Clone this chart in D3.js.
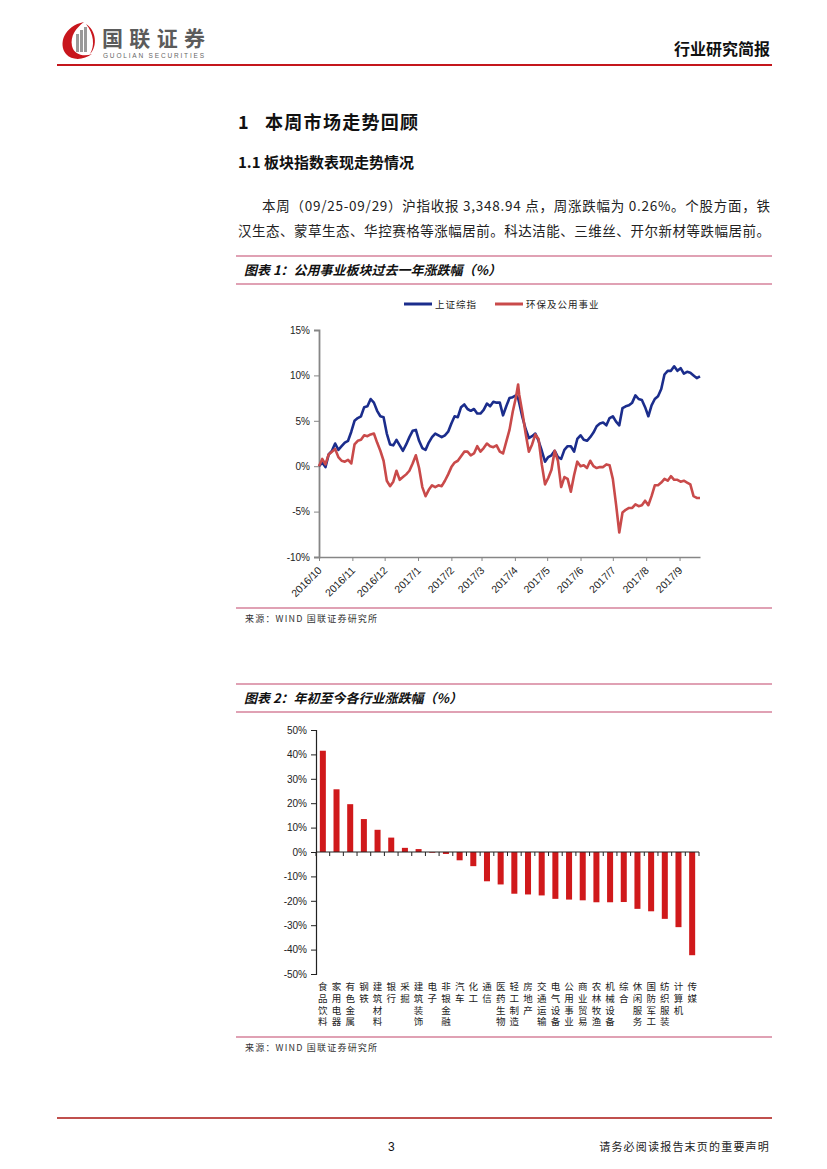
<!DOCTYPE html>
<html><head><meta charset="utf-8">
<script src="https://cdn.jsdelivr.net/npm/d3@7/dist/d3.min.js"></script>
<style>body{margin:0;background:#fff}svg{display:block}</style>
</head><body><svg id="page" width="827" height="1169"></svg>
<script>
// ---------- Figure 1 data (cumulative change, %) ----------
const lineDates = [
"2016-10-01","2016-10-04","2016-10-07","2016-10-10","2016-10-13","2016-10-16","2016-10-19","2016-10-22","2016-10-25","2016-10-28","2016-10-31",
"2016-11-03","2016-11-06","2016-11-09","2016-11-12","2016-11-15","2016-11-18","2016-11-21","2016-11-24","2016-11-27","2016-11-30",
"2016-12-03","2016-12-06","2016-12-09","2016-12-12","2016-12-15","2016-12-18","2016-12-21","2016-12-24","2016-12-27","2016-12-30",
"2017-01-02","2017-01-05","2017-01-08","2017-01-11","2017-01-14","2017-01-17","2017-01-20","2017-01-23","2017-01-26","2017-01-29",
"2017-02-01","2017-02-04","2017-02-07","2017-02-10","2017-02-13","2017-02-16","2017-02-19","2017-02-22","2017-02-25","2017-02-28",
"2017-03-03","2017-03-06","2017-03-09","2017-03-12","2017-03-15","2017-03-18","2017-03-21","2017-03-24","2017-03-27","2017-03-30",
"2017-04-02","2017-04-04","2017-04-05","2017-04-08","2017-04-11","2017-04-14","2017-04-17","2017-04-20","2017-04-23","2017-04-26","2017-04-29",
"2017-05-02","2017-05-05","2017-05-08","2017-05-11","2017-05-14","2017-05-17","2017-05-20","2017-05-23","2017-05-26","2017-05-29",
"2017-06-01","2017-06-04","2017-06-07","2017-06-10","2017-06-13","2017-06-16","2017-06-19","2017-06-22","2017-06-25","2017-06-28",
"2017-07-01","2017-07-04","2017-07-07","2017-07-10","2017-07-13","2017-07-16","2017-07-19","2017-07-22","2017-07-25","2017-07-28","2017-07-31",
"2017-08-03","2017-08-06","2017-08-09","2017-08-12","2017-08-15","2017-08-18","2017-08-21","2017-08-24","2017-08-27","2017-08-30",
"2017-09-02","2017-09-05","2017-09-08","2017-09-11","2017-09-14","2017-09-17","2017-09-20"
];
const shIndex = [
0,0.4,-0.1,1.3,1.7,2.5,1.8,2.2,2.6,2.8,3.8,
5.0,5.3,5.5,6.5,6.6,7.4,7.0,6.1,5.5,5.4,
3.6,2.4,2.3,2.9,2.3,1.7,2.4,3.2,3.9,4.0,
2.8,2.0,1.8,2.6,3.2,3.6,3.4,3.2,3.4,3.8,
4.7,5.5,5.4,6.5,6.8,6.3,6.1,6.3,5.8,5.8,
6.2,6.9,6.6,7.1,7.0,7.0,5.6,6.6,7.5,7.6,
7.8,7.5,7.0,5.4,4.1,3.1,3.3,3.6,2.8,1.7,0.5,
1.0,1.2,1.7,1.0,0.8,1.8,2.2,2.2,1.6,3.0,
3.4,2.9,2.8,3.2,3.7,4.4,4.7,4.8,4.5,5.3,
5.5,4.9,4.5,6.4,6.6,6.7,7.0,7.8,7.4,7.3,6.5,
5.5,6.7,7.4,7.7,8.5,10.1,10.5,10.5,11.0,10.5,
10.8,10.2,10.4,10.3,10.0,9.7,9.9
];
const utilities = [
0,0.8,0.2,1.3,1.6,1.9,1.0,0.6,0.5,0.7,0.3,
2.4,2.8,2.9,3.4,3.3,3.5,3.6,2.6,1.7,0.6,
-1.6,-2.2,-1.7,-0.5,-1.5,-1.2,-0.9,-0.5,0.3,1.2,
-0.2,-2.3,-3.3,-2.6,-2.1,-2.3,-2.1,-2.2,-1.6,-0.9,
-0.1,0.4,0.6,1.1,1.6,1.6,1.2,1.4,2.2,1.6,
2.0,2.5,2.2,2.1,2.3,1.6,1.4,2.7,4.0,6.0,
7.6,9.0,7.9,5.9,3.6,1.6,2.4,3.5,3.0,0.2,-2.0,
-1.3,-0.4,1.7,0.6,-2.3,-1.2,-1.4,-2.8,-1.0,0.5,
0.0,0.1,-0.2,0.6,0.0,-0.2,-0.1,-0.1,0.2,0.1,
-1.4,-4.2,-7.3,-5.1,-4.8,-4.6,-4.6,-4.2,-4.4,-4.3,-3.8,
-4.3,-3.3,-2.1,-2.1,-1.8,-1.4,-1.6,-1.1,-1.5,-1.5,
-1.7,-1.6,-1.8,-2.0,-3.3,-3.5,-3.5
];
const seriesNames = ["上证综指", "环保及公用事业"];
const lineTicks = [-10, -5, 0, 5, 10, 15];
const monthTicks = ["2016-10-01","2016-11-01","2016-12-01","2017-01-01","2017-02-01","2017-03-01","2017-04-01","2017-05-01","2017-06-01","2017-07-01","2017-08-01","2017-09-01"];

// ---------- Figure 2 data (YTD change by industry, %) ----------
const industries = ["食品饮料","家用电器","有色金属","钢铁","建筑材料","银行","采掘","建筑装饰","电子","非银金融","汽车","化工","通信","医药生物","轻工制造","房地产","交通运输","电气设备","公用事业","商业贸易","农林牧渔","机械设备","综合","休闲服务","国防军工","纺织服装","计算机","传媒"];
const industryChange = [41.5,25.7,19.6,13.5,9.1,5.9,1.7,1.2,-0.3,-0.8,-3.4,-5.8,-12.0,-13.3,-17.1,-17.4,-17.8,-19.2,-19.5,-19.8,-20.6,-20.6,-20.5,-23.3,-24.3,-27.4,-30.8,-42.3];
const barTicks = [-50,-40,-30,-20,-10,0,10,20,30,40,50];

// ---------- page ----------
const CJK = "'Noto Sans CJK SC','Noto Sans',sans-serif";
const LAT = "'Liberation Sans',Arial,sans-serif";
const svg = d3.select("#page");
svg.append("rect").attr("width",827).attr("height",1169).attr("fill","#fff");

// header logo
const logo = svg.append("g");
logo.append("path").attr("d","M84,22 C64,26 58,44 66,54 C72,61 84,60 92,54 C84,57 74,55 72,46 C70,36 76,28 84,22 Z").attr("fill","#c8161d");
logo.append("path").attr("d","M86,24 C96,30 98,46 90,54 C95,46 94,34 86,24 Z").attr("fill","#c8161d");
[[76,34,3,18],[80,30,3,22],[84,27,3,25]].forEach(b=>logo.append("rect").attr("x",b[0]).attr("y",b[1]).attr("width",b[2]).attr("height",b[3]).attr("fill","#9a9a9a"));
logo.append("text").attr("x",102).attr("y",46).attr("font-family",CJK).attr("font-weight",700).attr("font-size",21).attr("fill","#5b5b5b").attr("textLength",103).text("国联证券");
logo.append("text").attr("x",103).attr("y",57.5).attr("font-family",LAT).attr("font-size",6.5).attr("fill","#666").attr("textLength",101).text("GUOLIAN SECURITIES");
svg.append("text").attr("x",770).attr("y",55).attr("text-anchor","end").attr("font-family",CJK).attr("font-weight",700).attr("font-size",16).attr("fill","#111").text("行业研究简报");
svg.append("line").attr("x1",57).attr("x2",772).attr("y1",65).attr("y2",65).attr("stroke","#c4161c").attr("stroke-width",2);

// headings
svg.append("text").attr("x",238).attr("y",129).attr("font-family",CJK).attr("font-weight",700).attr("font-size",18).attr("fill","#111").text("1");
svg.append("text").attr("x",265).attr("y",129).attr("font-family",CJK).attr("font-weight",700).attr("font-size",18).attr("fill","#111").attr("letter-spacing",1.3).text("本周市场走势回顾");
svg.append("text").attr("x",238).attr("y",168).attr("font-family",CJK).attr("font-weight",700).attr("font-size",15).attr("fill","#111").text("1.1 板块指数表现走势情况");
svg.append("text").attr("x",262).attr("y",211).attr("font-family",CJK).attr("font-size",13.5).attr("fill","#222").attr("textLength",508).attr("lengthAdjust","spacing").text("本周（09/25-09/29）沪指收报 3,348.94 点，周涨跌幅为 0.26%。个股方面，铁");
svg.append("text").attr("x",238).attr("y",236).attr("font-family",CJK).attr("font-size",13.5).attr("fill","#222").attr("textLength",532).attr("lengthAdjust","spacing").text("汉生态、蒙草生态、华控赛格等涨幅居前。科达洁能、三维丝、开尔新材等跌幅居前。");

// figure title / source helpers
const RULE = "#c2456a";
function figTitle(y0, y1, label){
  svg.append("line").attr("x1",236).attr("x2",772).attr("y1",y0).attr("y2",y0).attr("stroke",RULE).attr("stroke-width",1.2);
  if (y1) svg.append("line").attr("x1",236).attr("x2",772).attr("y1",y1).attr("y2",y1).attr("stroke",RULE).attr("stroke-width",1.2);
  svg.append("text").attr("x",244).attr("y",y0+19).attr("font-family",CJK).attr("font-weight",700).attr("font-style","italic").attr("font-size",13).attr("fill","#111").text(label);
}
function figSource(y){
  svg.append("line").attr("x1",236).attr("x2",772).attr("y1",y).attr("y2",y).attr("stroke",RULE).attr("stroke-width",1.2);
  svg.append("text").attr("x",245).attr("y",y+14).attr("font-family",CJK).attr("font-size",9).attr("fill","#333").attr("letter-spacing",1.2).text("来源：WIND 国联证券研究所");
}
figTitle(256, 284, "图表 1：公用事业板块过去一年涨跌幅（%）");
figSource(608);
figTitle(684, 712, "图表 2：年初至今各行业涨跌幅（%）");
figSource(1037);

// ---------- Figure 1: line chart ----------
const parse = d3.timeParse("%Y-%m-%d");
const dates = lineDates.map(parse);
const x1 = d3.scaleTime().domain([parse("2016-10-01"), parse("2017-09-20")]).range([319, 700]);
const y1 = d3.scaleLinear().domain([-10, 15]).range([557, 330]);
const g1 = svg.append("g");
const yAx1 = g1.append("g").attr("transform","translate(319,0)")
  .call(d3.axisLeft(y1).tickValues(lineTicks).tickSize(5).tickPadding(4).tickFormat(d=>d+"%"));
yAx1.select(".domain").attr("stroke","#868686").attr("stroke-width",1.8);
yAx1.selectAll(".tick line").attr("stroke","#868686");
yAx1.selectAll("text").attr("font-family",LAT).attr("font-size",10).attr("fill","#222");
const xAx1 = g1.append("g").attr("transform","translate(0,557)")
  .call(d3.axisBottom(x1).tickValues(monthTicks.map(parse)).tickSize(4).tickFormat(d3.timeFormat("%Y/%-m")).tickSizeOuter(0));
xAx1.select(".domain").attr("stroke","#868686").attr("stroke-width",1.5);
xAx1.selectAll(".tick line").attr("stroke","#868686");
xAx1.selectAll("text").attr("font-family",LAT).attr("font-size",10.5).attr("fill","#222")
  .attr("text-anchor","end").attr("dy",0).attr("y",0).attr("transform","translate(3,14) rotate(-45)");

const lineGen = vals => d3.line().x((d,i)=>x1(dates[i])).y(d=>y1(d))(vals);
const colors = ["#1b2d8c", "#c94a4a"];
g1.append("path").attr("d",lineGen(shIndex)).attr("fill","none").attr("stroke",colors[0]).attr("stroke-width",2.6).attr("stroke-linejoin","round");
g1.append("path").attr("d",lineGen(utilities)).attr("fill","none").attr("stroke",colors[1]).attr("stroke-width",2.6).attr("stroke-linejoin","round");

// legend
const legendX = [404, 495];
seriesNames.forEach((n,i)=>{
  svg.append("line").attr("x1",legendX[i]).attr("x2",legendX[i]+28).attr("y1",304).attr("y2",304).attr("stroke",colors[i]).attr("stroke-width",3);
  svg.append("text").attr("x",legendX[i]+31).attr("y",307.5).attr("font-family",CJK).attr("font-size",9.5).attr("letter-spacing",1).attr("fill","#222").text(n);
});

// ---------- Figure 2: bar chart ----------
const x2 = d3.scaleBand().domain(industries).range([316, 699]).paddingInner(0.56).paddingOuter(0.28);
const y2 = d3.scaleLinear().domain([-50, 50]).range([974, 730]);
const g2 = svg.append("g");
g2.selectAll("rect.bar").data(industries).join("rect").attr("class","bar")
  .attr("x",d=>x2(d)).attr("width",x2.bandwidth())
  .attr("y",(d,i)=>y2(Math.max(0,industryChange[i])))
  .attr("height",(d,i)=>Math.abs(y2(industryChange[i])-y2(0)))
  .attr("fill","#d0191b");
const yAx2 = g2.append("g").attr("transform","translate(316,0)")
  .call(d3.axisLeft(y2).tickValues(barTicks).tickSize(5).tickPadding(4).tickFormat(d=>d+"%"));
yAx2.select(".domain").attr("stroke","#222").attr("stroke-width",1.2);
yAx2.selectAll(".tick line").attr("stroke","#222");
yAx2.selectAll("text").attr("font-family",LAT).attr("font-size",10).attr("fill","#222");
// zero axis with category-boundary ticks
const bounds = industries.map(d=>x2(d) - (x2.step()-x2.bandwidth())/2).concat([699]);
g2.append("line").attr("x1",316).attr("x2",699).attr("y1",y2(0)).attr("y2",y2(0)).attr("stroke","#222").attr("stroke-width",1.2);
g2.selectAll("line.ct").data(bounds).join("line").attr("class","ct")
  .attr("x1",d=>d).attr("x2",d=>d).attr("y1",y2(0)).attr("y2",y2(0)+4).attr("stroke","#222");
// vertical category labels (top-to-bottom writing)
g2.selectAll("text.cat").data(industries).join("text").attr("class","cat")
  .attr("x",d=>x2(d) + x2.bandwidth()/2).attr("y",982)
  .attr("writing-mode","vertical-rl").style("text-orientation","upright")
  .attr("letter-spacing",2.1)
  .attr("font-family",CJK).attr("font-size",9.5).attr("fill","#222").text(d=>d);

// footer
svg.append("line").attr("x1",57).attr("x2",772).attr("y1",1118).attr("y2",1118).attr("stroke","#c0504d").attr("stroke-width",2);
svg.append("text").attr("x",388).attr("y",1151).attr("font-family",LAT).attr("font-size",12).attr("fill","#111").text("3");
svg.append("text").attr("x",770).attr("y",1151).attr("text-anchor","end").attr("font-family",CJK).attr("font-size",11).attr("letter-spacing",1.2).attr("fill","#222").text("请务必阅读报告末页的重要声明");
</script>
</body></html>
